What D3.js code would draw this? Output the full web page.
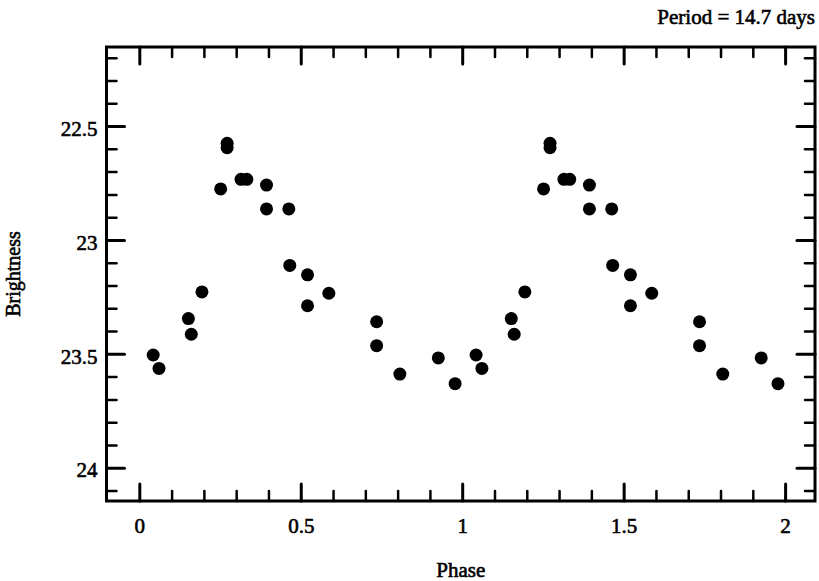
<!DOCTYPE html>
<html>
<head>
<meta charset="utf-8">
<script src="https://cdn.jsdelivr.net/npm/d3@7"></script>
<style>
  body { margin: 0; background: #fff; }
  svg text { font-family: "Liberation Serif", "Times New Roman", serif; fill: #000; stroke: #000; stroke-width: 0.6px; }
</style>
</head>
<body>
<svg id="chart" width="819" height="581"></svg>
<script>
// Phase folded light curve (two cycles shown)
const phase = [
  0.043, 0.061, 0.152, 0.161, 0.194, 0.252, 0.272, 0.272, 0.315, 0.333, 0.394,
  0.394, 0.463, 0.466, 0.521, 0.521, 0.587, 0.735, 0.735, 0.807, 0.926, 0.978,
  1.043, 1.061, 1.152, 1.161, 1.194, 1.252, 1.272, 1.272, 1.315, 1.333, 1.394,
  1.394, 1.463, 1.466, 1.521, 1.521, 1.587, 1.735, 1.735, 1.807, 1.926, 1.978
];
const brightness = [
  23.505, 23.564, 23.345, 23.414, 23.228, 22.776, 22.576, 22.595, 22.734, 22.734, 22.759,
  22.864, 22.864, 23.112, 23.153, 23.289, 23.234, 23.359, 23.464, 23.589, 23.518, 23.631,
  23.505, 23.564, 23.345, 23.414, 23.228, 22.776, 22.576, 22.595, 22.734, 22.734, 22.759,
  22.864, 22.864, 23.112, 23.153, 23.289, 23.234, 23.359, 23.464, 23.589, 23.518, 23.631
];
const xMajorTicks = [0, 0.5, 1, 1.5, 2];
const yMajorTicks = [22.5, 23, 23.5, 24];
const xTickLabels = ["0", "0.5", "1", "1.5", "2"];
const yTickLabels = ["22.5", "23", "23.5", "24"];

const svg = d3.select("#chart");

// frame of the plot
const frameLeft = 106.5, frameRight = 815, frameTop = 47, frameBottom = 501;

// SCALES
const xScale = d3.scaleLinear().domain([-0.1016, 2.0926]).range([frameLeft, frameRight]);
const yScale = d3.scaleLinear().domain([22.153, 24.146]).range([frameTop, frameBottom]);

// minor ticks every 0.1
const xMinor = d3.range(0, 21).map((i) => i / 10).filter((v) => !xMajorTicks.includes(v));
const yMinor = d3.range(222, 242).map((i) => i / 10).filter((v) => !yMajorTicks.includes(v));

function styleAxis(g, width) {
  g.select(".domain").remove();
  g.selectAll(".tick line")
    .attr("stroke", "#000")
    .attr("stroke-width", width)
    .attr("stroke-linecap", "round");
  g.selectAll(".tick text")
    .attr("font-family", "Liberation Serif, serif")
    .attr("font-size", 21)
    .attr("fill", "#000");
}

// bottom axis
svg.append("g")
  .attr("transform", `translate(0,${frameBottom})`)
  .call(d3.axisBottom(xScale).tickValues(xMajorTicks)
    .tickFormat((d, i) => xTickLabels[i]).tickSize(-17).tickPadding(17))
  .call((g) => styleAxis(g, 3))
  .call((g) => g.selectAll(".tick text").attr("y", 17).attr("dy", "0.71em"));
svg.append("g")
  .attr("transform", `translate(0,${frameBottom})`)
  .call(d3.axisBottom(xScale).tickValues(xMinor).tickFormat("").tickSize(-10))
  .call((g) => styleAxis(g, 2.5));

// top axis
svg.append("g")
  .attr("transform", `translate(0,${frameTop})`)
  .call(d3.axisTop(xScale).tickValues(xMajorTicks).tickFormat("").tickSize(-17))
  .call((g) => styleAxis(g, 3));
svg.append("g")
  .attr("transform", `translate(0,${frameTop})`)
  .call(d3.axisTop(xScale).tickValues(xMinor).tickFormat("").tickSize(-10))
  .call((g) => styleAxis(g, 2.5));

// left axis
svg.append("g")
  .attr("transform", `translate(${frameLeft},0)`)
  .call(d3.axisLeft(yScale).tickValues(yMajorTicks)
    .tickFormat((d, i) => yTickLabels[i]).tickSize(-18).tickPadding(9))
  .call((g) => styleAxis(g, 3))
  .call((g) => g.selectAll(".tick text").attr("x", -9).attr("dy", "0.44em"));
svg.append("g")
  .attr("transform", `translate(${frameLeft},0)`)
  .call(d3.axisLeft(yScale).tickValues(yMinor).tickFormat("").tickSize(-10))
  .call((g) => styleAxis(g, 2.5));

// right axis
svg.append("g")
  .attr("transform", `translate(${frameRight},0)`)
  .call(d3.axisRight(yScale).tickValues(yMajorTicks).tickFormat("").tickSize(-18))
  .call((g) => styleAxis(g, 3));
svg.append("g")
  .attr("transform", `translate(${frameRight},0)`)
  .call(d3.axisRight(yScale).tickValues(yMinor).tickFormat("").tickSize(-10))
  .call((g) => styleAxis(g, 2.5));

// frame
svg.append("rect")
  .attr("x", frameLeft)
  .attr("y", frameTop)
  .attr("width", frameRight - frameLeft)
  .attr("height", frameBottom - frameTop)
  .attr("fill", "none")
  .attr("stroke", "#000")
  .attr("stroke-width", 3);

// points
svg.append("g")
  .selectAll("circle")
  .data(phase.map((p, i) => ({ phase: p, brightness: brightness[i] })))
  .join("circle")
  .attr("cx", (d) => xScale(d.phase))
  .attr("cy", (d) => yScale(d.brightness))
  .attr("r", 6.5)
  .attr("fill", "#000");

// labels
svg.append("text")
  .attr("x", frameRight)
  .attr("y", 24)
  .attr("text-anchor", "end")
  .attr("font-size", 21)
  .text("Period = 14.7 days");

svg.append("text")
  .attr("x", (frameLeft + frameRight) / 2)
  .attr("y", 577)
  .attr("text-anchor", "middle")
  .attr("font-size", 21)
  .text("Phase");

svg.append("text")
  .attr("transform", `translate(20,${(frameTop + frameBottom) / 2}) rotate(-90)`)
  .attr("text-anchor", "middle")
  .attr("font-size", 20)
  .text("Brightness");
</script>
</body>
</html>
